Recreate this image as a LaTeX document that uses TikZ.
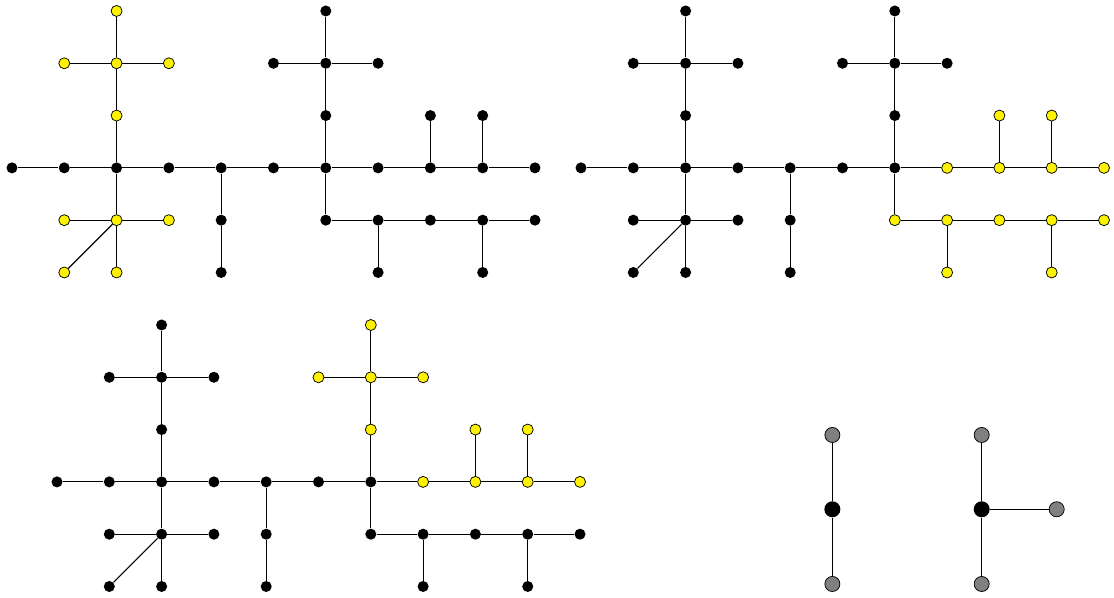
\documentclass[tikz,border=0pt]{standalone}
\usepackage{tikz}
\usetikzlibrary{positioning}

\tikzset{
	vtx/.style={circle, fill=black, inner sep=0pt, minimum size=6pt},
	hlvtx/.style={fill=yellow, draw=black, line width=0.4pt},
	bigvtx/.style={circle, fill=black, inner sep=0pt, minimum size=8.7pt},
	gadvtx/.style={circle, fill=gray, draw=black, line width=0.4pt, inner sep=0pt, minimum size=8.2pt},
	edge/.style={line width=0.6pt},
	mkhl/.style={yel-#1/.style={hlvtx}}
}

% one copy of the tree, nodes named <prefix>-column-row
\newcommand{\spiketree}[1]{
	\foreach \c/\r in {2/0,6/0, 1/1,2/1,3/1,5/1,6/1,7/1, 2/2,6/2,8/2,9/2,
		0/3,1/3,2/3,3/3,4/3,5/3,6/3,7/3,8/3,9/3,10/3,
		1/4,2/4,3/4,4/4,6/4,7/4,8/4,9/4,10/4, 1/5,2/5,4/5,7/5,9/5}
		\node[vtx, yel-\c-\r/.try] (#1-\c-\r) at (\c,-\r) {};
	\foreach \a/\b in {0-3/1-3,1-3/2-3,2-3/3-3,3-3/4-3,4-3/5-3,5-3/6-3,
		6-3/7-3,7-3/8-3,8-3/9-3,9-3/10-3,
		2-0/2-1,2-1/2-2,2-2/2-3,2-3/2-4,2-4/2-5,
		1-1/2-1,2-1/3-1,1-4/2-4,2-4/3-4,2-4/1-5,
		4-3/4-4,4-4/4-5,
		6-0/6-1,6-1/6-2,6-2/6-3,6-3/6-4,5-1/6-1,6-1/7-1,
		6-4/7-4,7-4/8-4,8-4/9-4,9-4/10-4,7-4/7-5,9-4/9-5,
		8-2/8-3,9-2/9-3}
		\draw[edge] (#1-\a) -- (#1-\b);
}

\begin{document}
\begin{tikzpicture}
	\useasboundingbox (0,0) rectangle (21.30,11.415);

	% top left
	\begin{scope}[shift={(0.229,11.205)}, mkhl/.list={2-0,1-1,2-1,3-1,2-2,1-4,2-4,3-4,1-5,2-5}]
		\spiketree{ta}
	\end{scope}

	% top right
	\begin{scope}[shift={(11.109,11.205)}, mkhl/.list={7-3,8-3,9-3,10-3,8-2,9-2,6-4,7-4,8-4,9-4,10-4,7-5,9-5}]
		\spiketree{tb}
	\end{scope}

	% bottom left
	\begin{scope}[shift={(1.090,5.201)}, mkhl/.list={6-0,5-1,6-1,7-1,6-2,7-3,8-3,9-3,10-3,8-2,9-2}]
		\spiketree{tc}
	\end{scope}

	% the two small pieces
	\node[bigvtx] (pa-mid) at (15.915,1.677) {};
	\node[gadvtx] (pa-top) at (15.915,3.098) {};
	\node[gadvtx] (pa-bot) at (15.915,0.249) {};
	\draw[edge] (pa-top) -- (pa-mid) -- (pa-bot);

	\node[bigvtx] (pb-mid) at (18.770,1.677) {};
	\node[gadvtx] (pb-top) at (18.770,3.098) {};
	\node[gadvtx] (pb-bot) at (18.770,0.249) {};
	\node[gadvtx] (pb-right) at (20.204,1.677) {};
	\draw[edge] (pb-top) -- (pb-mid) -- (pb-bot);
	\draw[edge] (pb-mid) -- (pb-right);
\end{tikzpicture}
\end{document}
